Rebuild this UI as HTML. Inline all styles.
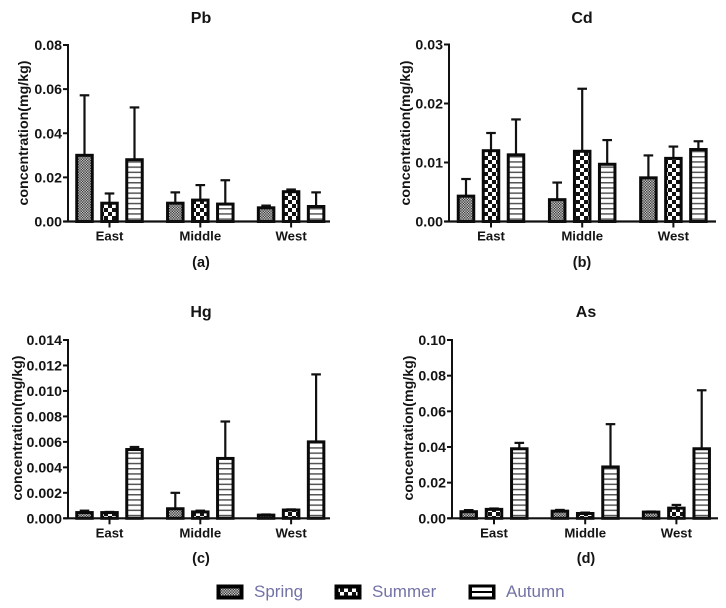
<!DOCTYPE html>
<html>
<head>
<meta charset="utf-8">
<style>
html,body{margin:0;padding:0;background:#fff;width:726px;height:608px;overflow:hidden}
svg{display:block;filter:blur(0.35px)}
text{font-family:"Liberation Sans",sans-serif;fill:#141414}
.b{font-weight:bold}
</style>
</head>
<body>
<svg id="chart" xmlns="http://www.w3.org/2000/svg" width="726" height="608" viewBox="0 0 726 608">
<defs>
<pattern id="pSpring" width="2.6" height="2.6" patternUnits="userSpaceOnUse">
<rect width="2.6" height="2.6" fill="#cfcfcf"/>
<rect width="1.3" height="1.3" fill="#333"/>
<rect x="1.3" y="1.3" width="1.3" height="1.3" fill="#333"/>
</pattern>
<pattern id="pSummer" width="8" height="8" patternUnits="userSpaceOnUse">
<rect width="8" height="8" fill="#fff"/>
<rect width="4" height="4" fill="#111"/>
<rect x="4" y="4" width="4" height="4" fill="#111"/>
</pattern>
<pattern id="pAutumn" width="5.2" height="5.2" patternUnits="userSpaceOnUse">
<rect width="5.2" height="5.2" fill="#fff"/>
<rect y="0" width="5.2" height="1.5" fill="#555"/>
</pattern>
</defs>
<g id="panels"></g>
<g>
<g>
<rect x="218.5" y="586.5" width="23" height="11" fill="url(#pSpring)" stroke="#000" stroke-width="4"/>
<text x="254" y="597" font-size="17" style="fill:#7272a6">Spring</text>
</g>
<g>
<rect x="336.5" y="586.5" width="23" height="11" fill="url(#pSummer)" stroke="#000" stroke-width="4"/>
<text x="372" y="597" font-size="17" style="fill:#7272a6">Summer</text>
</g>
<g>
<rect x="470" y="586" width="24" height="12" fill="#000" stroke="#000" stroke-width="3"/>
<rect x="472" y="587.5" width="20" height="3.5" fill="#fff"/>
<rect x="472" y="593" width="20" height="3.5" fill="#fff"/>
<text x="506" y="597" font-size="17" style="fill:#7272a6">Autumn</text>
</g>
</g>
</svg>
<script>
var categories = ['East', 'Middle', 'West'];
var seasons = ['Spring', 'Summer', 'Autumn'];

var pbTicks = ['0.00', '0.02', '0.04', '0.06', '0.08'];
var pbMeans = [[0.030, 0.0083, 0.028], [0.0083, 0.0097, 0.0079], [0.0062, 0.0135, 0.0068]];
var pbUpper = [[0.0572, 0.0127, 0.0517], [0.0132, 0.0165, 0.0187], [0.0072, 0.0145, 0.0132]];

var cdTicks = ['0.00', '0.01', '0.02', '0.03'];
var cdMeans = [[0.0043, 0.012, 0.0113], [0.0037, 0.0119, 0.0097], [0.0074, 0.0107, 0.0122]];
var cdUpper = [[0.0072, 0.015, 0.0173], [0.0066, 0.0225, 0.0138], [0.0112, 0.0127, 0.0136]];

var hgTicks = ['0.000', '0.002', '0.004', '0.006', '0.008', '0.010', '0.012', '0.014'];
var hgMeans = [[0.00045, 0.00045, 0.0054], [0.00075, 0.0005, 0.0047], [0.00025, 0.00065, 0.006]];
var hgUpper = [[0.0006, 0.0005, 0.0056], [0.002, 0.0006, 0.0076], [0.0003, 0.0007, 0.0113]];

var asTicks = ['0.00', '0.02', '0.04', '0.06', '0.08', '0.10'];
var asMeans = [[0.0037, 0.005, 0.039], [0.004, 0.0027, 0.0288], [0.0035, 0.0057, 0.039]];
var asUpper = [[0.0046, 0.0055, 0.0423], [0.0047, 0.0032, 0.0528], [0.0038, 0.0075, 0.0718]];

var NS = 'http://www.w3.org/2000/svg';
var root = document.getElementById('panels');

function make(parent, tag, attrs, txt) {
  var el = document.createElementNS(NS, tag);
  for (var k in attrs) el.setAttribute(k, attrs[k]);
  if (txt !== undefined) el.textContent = txt;
  parent.appendChild(el);
  return el;
}

function drawPanel(cfg) {
  var g = make(root, 'g', {});
  
  

  var yMax = parseFloat(cfg.ticks[cfg.ticks.length - 1]);
  function yScale(v) { return cfg.zero - (v / yMax) * (cfg.zero - cfg.top); }
  function groupCenter(i) { return cfg.firstCenter + i * cfg.groupStep; }
  function barCenter(i, s) { return groupCenter(i) + (s - 1) * cfg.barStep; }

  var title = make(g, 'text', {x: cfg.cx, y: cfg.titleY, 'text-anchor': 'middle', 'font-size': 16, 'class': 'b'}, cfg.title);
  
  

  var yt = make(g, 'text', {x: 0, y: 0, 'text-anchor': 'middle', 'font-size': 14.2, 'class': 'b', transform: 'translate(' + cfg.ylx + ',' + cfg.yly + ') rotate(-90)'}, 'concentration(mg/kg)');
  
  

  var fills = ['url(#pSpring)', 'url(#pSummer)', 'url(#pAutumn)'];
  var bw = 15.5;

  cfg.means.forEach(function (row, i) {
    row.forEach(function (v, s) {
      var cx = barCenter(i, s);
      var yTop = yScale(v);
      var yUp = yScale(cfg.upper[i][s]);

      var err = make(g, 'line', {x1: cx, x2: cx, y1: yTop, y2: yUp, stroke: '#111', 'stroke-width': 2.2});
      
      

      var cap = make(g, 'line', {x1: cx - 4.8, x2: cx + 4.8, y1: yUp, y2: yUp, stroke: '#111', 'stroke-width': 2.2});
      
      

      var bar = make(g, 'rect', {x: cx - bw / 2, y: yTop, width: bw, height: Math.max(cfg.zero - yTop, 0), fill: fills[s], stroke: '#0a0a0a', 'stroke-width': 3});
      
      
    });
  });

  var xAxis = make(g, 'line', {x1: cfg.axisX - 4.5, x2: cfg.axisEnd, y1: cfg.zero, y2: cfg.zero, stroke: '#111', 'stroke-width': 2.2});
  
  

  var yAxis = make(g, 'line', {x1: cfg.axisX, x2: cfg.axisX, y1: cfg.top - 1, y2: cfg.zero, stroke: '#111', 'stroke-width': 2});
  
  

  cfg.ticks.forEach(function (t) {
    var y = yScale(parseFloat(t));
    var tick = make(g, 'line', {x1: cfg.axisX - 5, x2: cfg.axisX, y1: y, y2: y, stroke: '#111', 'stroke-width': 2});
    
    
    var lab = make(g, 'text', {x: cfg.axisX - 6, y: y + 5, 'text-anchor': 'end', 'font-size': 14.2, 'class': 'b'}, t);
    
    
  });

  categories.forEach(function (c, i) {
    var x = groupCenter(i);
    var tick = make(g, 'line', {x1: x, x2: x, y1: cfg.zero, y2: cfg.zero + 6, stroke: '#111', 'stroke-width': 2});
    
    
    var lab = make(g, 'text', {x: x, y: cfg.zero + 19, 'text-anchor': 'middle', 'font-size': 13.2, 'class': 'b'}, c);
    
    
  });

  var cap2 = make(g, 'text', {x: cfg.cx, y: cfg.capY, 'text-anchor': 'middle', 'font-size': 14.5, 'class': 'b'}, cfg.caption);
  
  
}

drawPanel({key: 'pb', title: 'Pb', caption: '(a)', ticks: pbTicks, means: pbMeans, upper: pbUpper,
  axisX: 68, axisEnd: 330, top: 45, zero: 221.5, firstCenter: 109.5, groupStep: 90.8, barStep: 25,
  cx: 201, titleY: 23, capY: 267, ylx: 28, yly: 133});
drawPanel({key: 'cd', title: 'Cd', caption: '(b)', ticks: cdTicks, means: cdMeans, upper: cdUpper,
  axisX: 449, axisEnd: 716, top: 44.5, zero: 221.5, firstCenter: 491, groupStep: 91.2, barStep: 25,
  cx: 582, titleY: 23, capY: 267, ylx: 410, yly: 133});
drawPanel({key: 'hg', title: 'Hg', caption: '(c)', ticks: hgTicks, means: hgMeans, upper: hgUpper,
  axisX: 68, axisEnd: 330, top: 340, zero: 518.3, firstCenter: 109.5, groupStep: 90.8, barStep: 25,
  cx: 201, titleY: 317, capY: 563, ylx: 22, yly: 428});
drawPanel({key: 'as', title: 'As', caption: '(d)', ticks: asTicks, means: asMeans, upper: asUpper,
  axisX: 452, axisEnd: 718, top: 340, zero: 518.3, firstCenter: 494, groupStep: 91.2, barStep: 25.3,
  cx: 586, titleY: 317, capY: 563, ylx: 413, yly: 428});
</script>
</body>
</html>
